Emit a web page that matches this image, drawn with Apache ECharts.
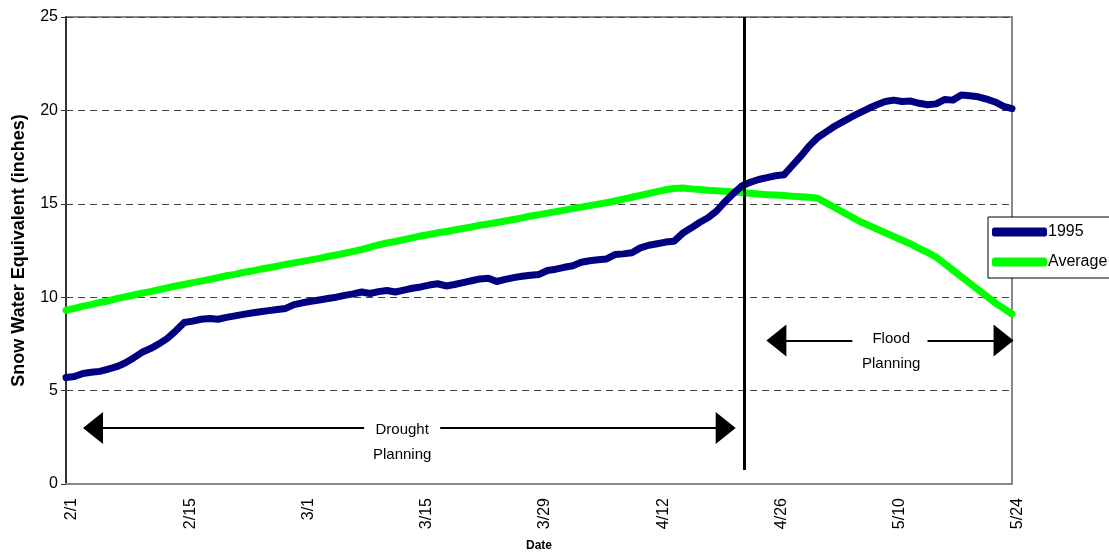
<!DOCTYPE html>
<html>
<head>
<meta charset="utf-8">
<title>Snow Water Equivalent 1995</title>
<script src="https://cdn.jsdelivr.net/npm/echarts@6.0.0/dist/echarts.min.js"></script>
<style>
  html, body { margin: 0; padding: 0; background: #fff; }
  #chart { width: 1109px; height: 557px; }
</style>
</head>
<body>
<div id="chart"></div>
<script>
// tick labels every 14 days, from 2/1 (day 0) to 5/24 (day 112)
const tickLabels = ['2/1', '2/15', '3/1', '3/15', '3/29', '4/12', '4/26', '5/10', '5/24']

// daily snow water equivalent, inches (day 0 = 2/1)
const snow1995 = [
  5.70, 5.75, 5.92, 5.98, 6.03, 6.15, 6.28, 6.48, 6.75, 7.05,
  7.25, 7.50, 7.80, 8.20, 8.65, 8.72, 8.82, 8.86, 8.82, 8.92,
  9.00, 9.08, 9.15, 9.22, 9.28, 9.34, 9.40, 9.60, 9.70, 9.78,
  9.85, 9.93, 10.00, 10.10, 10.18, 10.28, 10.20, 10.30, 10.36, 10.28,
  10.38, 10.48, 10.55, 10.65, 10.72, 10.60, 10.68, 10.78, 10.88, 10.98,
  11.02, 10.84, 10.95, 11.05, 11.12, 11.18, 11.22, 11.43, 11.50, 11.60,
  11.68, 11.87, 11.95, 12.00, 12.05, 12.28, 12.32, 12.38, 12.64, 12.78,
  12.86, 12.95, 13.00, 13.42, 13.70, 14.00, 14.25, 14.60, 15.10, 15.55,
  15.95, 16.15, 16.30, 16.40, 16.50, 16.55, 17.05, 17.55, 18.10, 18.55,
  18.85, 19.15, 19.40, 19.65, 19.88, 20.10, 20.30, 20.48, 20.55, 20.48,
  20.50, 20.38, 20.30, 20.35, 20.58, 20.55, 20.82, 20.78, 20.73, 20.60,
  20.45, 20.22, 20.10
]

const snowAverage = [
  9.30, 9.40, 9.52, 9.60, 9.72, 9.80, 9.92, 10.02, 10.12, 10.22,
  10.30, 10.40, 10.50, 10.60, 10.68, 10.78, 10.86, 10.95, 11.05, 11.15,
  11.22, 11.32, 11.40, 11.50, 11.58, 11.66, 11.76, 11.84, 11.92, 12.00,
  12.08, 12.18, 12.26, 12.35, 12.45, 12.55, 12.68, 12.80, 12.90, 12.98,
  13.08, 13.18, 13.28, 13.36, 13.45, 13.52, 13.60, 13.68, 13.76, 13.85,
  13.92, 14.00, 14.08, 14.16, 14.25, 14.35, 14.42, 14.50, 14.58, 14.66,
  14.74, 14.82, 14.90, 14.98, 15.06, 15.15, 15.25, 15.35, 15.45, 15.55,
  15.65, 15.75, 15.82, 15.85, 15.80, 15.76, 15.72, 15.70, 15.67, 15.63,
  15.60, 15.56, 15.52, 15.49, 15.47, 15.44, 15.41, 15.38, 15.35, 15.30,
  15.05, 14.80, 14.55, 14.30, 14.05, 13.85, 13.65, 13.45, 13.25, 13.05,
  12.85, 12.62, 12.40, 12.15, 11.80, 11.45, 11.10, 10.75, 10.40, 10.05,
  9.70, 9.40, 9.10
]

// annotation anchors (day, inches)
const splitDay = 80.3
const droughtArrow = { y: 3.0, from: 3.2, gapFrom: 35.3, gapTo: 44.3, to: 78.1, textX: 39.8, textY: 2.21 }
const floodArrow = { y: 7.68, from: 84.1, gapFrom: 93.1, gapTo: 102.0, to: 111.0, textX: 97.7, textY: 7.09 }

const font = '"Liberation Sans", Arial, sans-serif'
const arrowStyle = { color: '#000', width: 2, type: 'solid' }
const headSize = [32, 20]

const toPoints = (arr) => arr.map((v, i) => [i, v])

// arrow = two segments with a triangle at each outer end, broken around the text
const arrowLines = (a) => [
  [
    { coord: [a.from, a.y], symbol: 'triangle', symbolSize: headSize },
    { coord: [a.gapFrom, a.y], symbol: 'none' }
  ],
  [
    { coord: [a.gapTo, a.y], symbol: 'none' },
    { coord: [a.to, a.y], symbol: 'triangle', symbolSize: headSize }
  ]
]

const chart = echarts.init(document.getElementById('chart'))

const option = {
  animation: false,
  textStyle: { fontFamily: font },
  grid: {
    left: 66,
    right: 97,
    top: 17,
    bottom: 71,
    show: true,
    borderColor: '#888',
    borderWidth: 2,
    backgroundColor: 'transparent'
  },
  legend: {
    data: ['1995', 'Average'],
    orient: 'vertical',
    left: 988,
    top: 217,
    itemWidth: 55,
    itemHeight: 9,
    itemGap: 14,
    padding: [7, 12, 8, 4],
    borderColor: '#000',
    borderWidth: 1,
    backgroundColor: '#fff',
    icon: 'roundRect',
    textStyle: { fontSize: 16, color: '#000', fontFamily: font, padding: [0, 0, 0, -4] }
  },
  xAxis: {
    type: 'value',
    min: 0,
    max: 112,
    interval: 14,
    name: 'Date',
    nameLocation: 'middle',
    nameGap: 56,
    nameTextStyle: { fontSize: 12, fontWeight: 'bold', color: '#000', fontFamily: font },
    axisLine: { show: true, lineStyle: { color: '#888', width: 2 } },
    axisTick: { show: false },
    splitLine: { show: false },
    axisLabel: {
      rotate: 90,
      margin: 14,
      fontSize: 16,
      color: '#000',
      fontFamily: font,
      verticalAlign: 'top',
      lineHeight: 12,
      formatter: (v) => tickLabels[Math.round(v / 14)] || ''
    }
  },
  yAxis: {
    type: 'value',
    min: 0,
    max: 25,
    interval: 5,
    name: 'Snow Water Equivalent (inches)',
    nameLocation: 'middle',
    nameGap: 38,
    nameTextStyle: { fontSize: 18, fontWeight: 'bold', color: '#000', fontFamily: font },
    axisLine: { show: true, lineStyle: { color: '#333', width: 2 } },
    axisTick: { show: true, length: 5, lineStyle: { color: '#333' } },
    splitLine: { show: true, lineStyle: { color: '#444', type: [7, 5], width: 1 } },
    axisLabel: { fontSize: 16, color: '#000', margin: 8, fontFamily: font }
  },
  series: [
    {
      name: '1995',
      type: 'line',
      data: toPoints(snow1995),
      showSymbol: false,
      color: '#000080',
      lineStyle: { color: '#000080', width: 7, cap: 'round', join: 'round' },
      z: 3
    },
    {
      name: 'Average',
      type: 'line',
      data: toPoints(snowAverage),
      showSymbol: false,
      color: '#00ff00',
      lineStyle: { color: '#00ff00', width: 7, cap: 'round', join: 'round' },
      z: 2
    },
    {
      // annotations: planning split line, arrows and labels
      name: 'notes',
      type: 'line',
      data: [],
      z: 4,
      markLine: {
        silent: true,
        symbol: 'none',
        label: { show: false },
        lineStyle: arrowStyle,
        data: [
          [
            { coord: [splitDay, 25], lineStyle: { color: '#000', width: 3, type: 'solid' } },
            { coord: [splitDay, 0.75] }
          ],
          ...arrowLines(droughtArrow),
          ...arrowLines(floodArrow)
        ]
      },
      markPoint: {
        silent: true,
        symbol: 'circle',
        symbolSize: 1,
        itemStyle: { color: 'transparent' },
        label: {
          show: true,
          position: 'inside',
          fontSize: 15,
          lineHeight: 25,
          color: '#000',
          fontFamily: font,
          formatter: (p) => p.name
        },
        data: [
          { name: 'Drought\nPlanning', coord: [droughtArrow.textX, droughtArrow.textY] },
          { name: 'Flood\nPlanning', coord: [floodArrow.textX, floodArrow.textY] }
        ]
      }
    }
  ]
}

chart.setOption(option)
</script>
</body>
</html>
